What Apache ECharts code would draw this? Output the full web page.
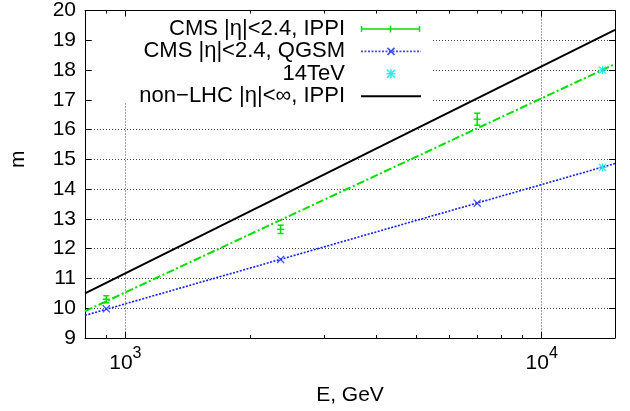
<!DOCTYPE html>
<html>
<head>
<meta charset="utf-8">
<script src="https://cdn.jsdelivr.net/npm/echarts@6/dist/echarts.min.js"></script>
<style>
  html, body { margin: 0; padding: 0; background: #fff; }
  #chart { width: 630px; height: 411px; }
</style>
</head>
<body>
<div id="chart"></div>
<script>
// Mean charged multiplicity m versus collision energy E (GeV), log-x

// IPPI values for CMS |eta|<2.4 with errors
const ippiEnergy = [900, 2360, 7000];
const ippiMult   = [10.3, 12.65, 16.35];
const ippiErr    = [0.12, 0.14, 0.2];

// IPPI fit line (green dash-dot), end points of the drawn range
const ippiFitEnergy = [800, 15000];
const ippiFitMult   = [9.9, 18.2];

// QGSM values for CMS |eta|<2.4
const qgsmEnergy = [900, 2360, 7000];
const qgsmMult   = [9.98, 11.64, 13.53];

// QGSM fit line (blue dotted)
const qgsmFitEnergy = [800, 15000];
const qgsmFitMult   = [9.76, 14.86];

// 14 TeV predictions
const tevEnergy = [14000, 14000];
const tevMult   = [18.0, 14.73];

// non-LHC IPPI curve
const nonLhcEnergy = [800, 15000];
const nonLhcMult   = [10.5, 19.35];

// axis ticks
const xMajorTicks = [1000, 10000];
const xMinorTicks = [900, 2000, 3000, 4000, 5000, 6000, 7000, 8000, 9000];
const yMin = 9, yMax = 20, yStep = 1;
const xMin = 800, xMax = 15000;

const NAME_IPPI = 'CMS |η|<2.4, IPPI';
const NAME_QGSM = 'CMS |η|<2.4, QGSM';
const NAME_TEV  = '14TeV';
const NAME_NON  = 'non\u2212LHC |η|<∞, IPPI';

const GREEN = '#00e000';
const BLUE  = '#1020ff';
const CYAN  = '#00e5e5';
const BLACK = '#000000';
const FONT  = '"Liberation Sans", Arial, Helvetica, sans-serif';

const zip = (xs, ys) => xs.map((x, i) => [x, ys[i]]);

// marker shapes
const CROSS_X = 'path://M0,1.1L1.1,0L10,8.9L8.9,10Z M8.9,0L10,1.1L1.1,10L0,8.9Z';
const STAR = 'path://M4.2,0H5.8V10H4.2Z M0,4.2H10V5.8H0Z M0,1.1L1.1,0L10,8.9L8.9,10Z M8.9,0L10,1.1L1.1,10L0,8.9Z';

// key samples as small inline SVGs
function svgIcon(body) {
  const svg = '<svg xmlns="http://www.w3.org/2000/svg" width="71" height="14" viewBox="0 0 71 14">' + body + '</svg>';
  return 'image://data:image/svg+xml;charset=utf-8,' + encodeURIComponent(svg);
}
const iconIppi = svgIcon(
  '<g stroke="' + GREEN + '" stroke-width="1.5" fill="none">' +
  '<line x1="11.5" y1="7" x2="69.5" y2="7"/>' +
  '<line x1="11.5" y1="4" x2="11.5" y2="10"/>' +
  '<line x1="69.5" y1="4" x2="69.5" y2="10"/>' +
  '<line x1="40.5" y1="3.5" x2="40.5" y2="10.5"/></g>');
const iconQgsm = svgIcon(
  '<line x1="11" y1="7" x2="71" y2="7" stroke="' + BLUE + '" stroke-width="1.6" stroke-dasharray="2,1.5"/>' +
  '<g stroke="' + BLUE + '" stroke-width="1.6"><line x1="37.5" y1="3.5" x2="44.5" y2="10.5"/>' +
  '<line x1="44.5" y1="3.5" x2="37.5" y2="10.5"/></g>');
const iconTev = svgIcon(
  '<g stroke="' + CYAN + '" stroke-width="1.6"><line x1="37" y1="3" x2="45" y2="11"/>' +
  '<line x1="45" y1="3" x2="37" y2="11"/><line x1="41" y1="2.5" x2="41" y2="11.5"/>' +
  '<line x1="36.5" y1="7" x2="45.5" y2="7"/></g>');
const iconNon = svgIcon(
  '<line x1="11" y1="7" x2="71" y2="7" stroke="' + BLACK + '" stroke-width="2"/>');

// one key row per entry, stacked from the top of the plot
const keyRows = [
  { name: NAME_IPPI, icon: iconIppi },
  { name: NAME_QGSM, icon: iconQgsm },
  { name: NAME_TEV, icon: iconTev },
  { name: NAME_NON, icon: iconNon }
];
const keyRowTop = 18, keyRowStep = 22.4;
const legends = keyRows.map((row, i) => ({
  orient: 'vertical',
  align: 'right',
  right: 209,
  top: keyRowTop + i * keyRowStep,
  padding: 0,
  itemWidth: 71,
  itemHeight: 14,
  selectedMode: false,
  textStyle: { fontSize: 22, lineHeight: 14, color: BLACK, fontFamily: FONT },
  data: [row]
}));

// error bars with a '+' at the central value
function renderErrorBar(params, api) {
  const e = api.value(0);
  const c = api.coord([e, api.value(1)]);
  const lo = api.coord([e, api.value(2)]);
  const hi = api.coord([e, api.value(3)]);
  const cap = 3, arm = 3.5;
  const st = { stroke: GREEN, lineWidth: 1.5, fill: null };
  return {
    type: 'group',
    children: [
      { type: 'line', shape: { x1: c[0], y1: Math.min(hi[1], c[1] - arm), x2: c[0], y2: Math.max(lo[1], c[1] + arm) }, style: st },
      { type: 'line', shape: { x1: c[0] - cap, y1: hi[1], x2: c[0] + cap, y2: hi[1] }, style: st },
      { type: 'line', shape: { x1: c[0] - cap, y1: lo[1], x2: c[0] + cap, y2: lo[1] }, style: st },
      { type: 'line', shape: { x1: c[0] - arm, y1: c[1], x2: c[0] + arm, y2: c[1] }, style: st }
    ]
  };
}

const dotted = { color: '#444', width: 1, type: [1, 2] };
const tickLine = { color: BLACK, width: 1 };

function logAxis(position, ticks, len, extra) {
  return Object.assign({
    type: 'log', logBase: 10, min: xMin, max: xMax, position: position,
    axisLine: { show: false, onZero: false },
    axisTick: { show: true, inside: true, length: len, customValues: ticks, lineStyle: tickLine },
    axisLabel: { show: false },
    splitLine: { show: false },
    minorTick: { show: false }
  }, extra || {});
}

const chart = echarts.init(document.getElementById('chart'), null, { renderer: 'canvas' });

chart.setOption({
  animation: false,
  backgroundColor: '#fff',
  textStyle: { fontFamily: FONT },
  grid: { left: 82, right: 15, top: 7, bottom: 66, containLabel: false },
  graphic: [{
    type: 'rect', z: 1, silent: true,
    shape: { x: 94, y: 8, width: 339, height: 95 },
    style: { fill: '#fff' }
  }],
  legend: legends,
  xAxis: [
    logAxis('bottom', xMajorTicks, 6, {
      axisLine: { show: true, onZero: false, lineStyle: { color: BLACK, width: 1 } },
      axisLabel: {
        show: true, customValues: xMajorTicks, margin: 8, color: BLACK,
        formatter: v => '{b|10}{s|' + Math.round(Math.log10(v)) + '}',
        rich: {
          b: { fontSize: 21, fontFamily: FONT, color: BLACK },
          s: { fontSize: 16, fontFamily: FONT, color: BLACK, padding: [0, 0, 18, 0] }
        }
      },
      splitLine: { show: true, lineStyle: dotted },
      name: 'E, GeV', nameLocation: 'middle', nameGap: 47,
      nameTextStyle: { fontSize: 21, color: BLACK, fontFamily: FONT }
    }),
    logAxis('bottom', xMinorTicks, 3),
    logAxis('top', xMajorTicks, 6, {
      z: 3,
      axisLine: { show: true, onZero: false, lineStyle: { color: BLACK, width: 1 } }
    }),
    logAxis('top', xMinorTicks, 3, { z: 3 })
  ],
  yAxis: [
    {
      type: 'value', min: yMin, max: yMax, interval: yStep, position: 'left',
      axisLine: { show: true, onZero: false, lineStyle: { color: BLACK, width: 1 } },
      axisTick: { show: true, inside: true, length: 6, lineStyle: tickLine },
      axisLabel: { margin: 9, fontSize: 21, color: BLACK, fontFamily: FONT },
      splitLine: { show: true, lineStyle: dotted },
      name: 'm', nameLocation: 'middle', nameGap: 56,
      nameTextStyle: { fontSize: 21, color: BLACK, fontFamily: FONT, padding: [0, 0, 0, 30] }
    },
    {
      type: 'value', min: yMin, max: yMax, interval: yStep, position: 'right', z: 3,
      axisLine: { show: true, onZero: false, lineStyle: { color: BLACK, width: 1 } },
      axisTick: { show: true, inside: true, length: 6, lineStyle: tickLine },
      axisLabel: { show: false },
      splitLine: { show: false }
    }
  ],
  series: [
    {
      name: 'IPPI fit', type: 'line', xAxisIndex: 0, yAxisIndex: 0,
      data: zip(ippiFitEnergy, ippiFitMult), symbol: 'none', silent: true,
      lineStyle: { color: GREEN, width: 2, type: [8, 2.5, 2, 2.5] }, z: 2
    },
    {
      name: 'QGSM fit', type: 'line', xAxisIndex: 0, yAxisIndex: 0,
      data: zip(qgsmFitEnergy, qgsmFitMult), symbol: 'none', silent: true,
      lineStyle: { color: BLUE, width: 1.6, type: [2, 1.5] }, z: 2
    },
    {
      name: NAME_NON, type: 'line', xAxisIndex: 0, yAxisIndex: 0,
      data: zip(nonLhcEnergy, nonLhcMult), symbol: 'none', silent: true,
      color: BLACK, lineStyle: { color: BLACK, width: 2 }, z: 2
    },
    {
      name: NAME_IPPI, type: 'custom', xAxisIndex: 0, yAxisIndex: 0,
      color: GREEN,
      renderItem: renderErrorBar,
      encode: { x: 0, y: 1 },
      data: ippiEnergy.map((e, i) => [e, ippiMult[i], ippiMult[i] - ippiErr[i], ippiMult[i] + ippiErr[i]]),
      z: 3
    },
    {
      name: NAME_QGSM, type: 'scatter', xAxisIndex: 0, yAxisIndex: 0,
      data: zip(qgsmEnergy, qgsmMult), symbol: CROSS_X, symbolSize: 8,
      itemStyle: { color: BLUE }, z: 3
    },
    {
      name: NAME_TEV, type: 'scatter', xAxisIndex: 0, yAxisIndex: 0,
      data: zip(tevEnergy, tevMult), symbol: STAR, symbolSize: 8,
      itemStyle: { color: CYAN }, z: 3
    }
  ]
});
</script>
</body>
</html>
